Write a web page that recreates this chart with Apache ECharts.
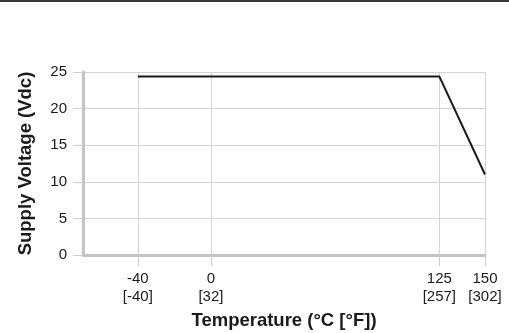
<!DOCTYPE html>
<html>
<head>
<meta charset="utf-8">
<script src="https://cdn.jsdelivr.net/npm/echarts@6/dist/echarts.min.js"></script>
<style>
  html, body { margin: 0; padding: 0; background: #fff; }
  #chart { width: 509px; height: 333px; }
</style>
</head>
<body>
<div id="chart"></div>
<script>
// derating curve: temperature (°C) vs supply voltage (Vdc)
const tempC = [-40, 125, 150];
const supplyV = [24.4, 24.4, 11];
// x tick positions and their two-line labels
const xTicks = [-40, 0, 125, 150];
const xTickLabels = ['-40\n[-40]', '0\n[32]', '125\n[257]', '150\n[302]'];

const chart = echarts.init(document.getElementById('chart'));

const option = {
  animation: false,
  backgroundColor: '#fff',
  graphic: [
    {
      type: 'rect',
      left: 0,
      top: 0,
      shape: { width: 509, height: 2 },
      style: { fill: '#3a3a3a' },
    },
  ],
  grid: {
    left: 83,
    right: 24,
    top: 72,
    bottom: 78,
    outerBoundsMode: 'none',
  },
  xAxis: {
    type: 'value',
    min: -70,
    max: 150,
    name: 'Temperature (°C [°F])',
    nameLocation: 'middle',
    nameGap: 56,
    nameTextStyle: {
      fontFamily: 'Liberation Sans',
      fontWeight: 'bold',
      fontSize: 18.5,
      color: '#1a1a1a',
    },
    axisLine: { show: true, onZero: false, lineStyle: { color: '#c4c4c6', width: 3 } },
    axisTick: {
      show: true,
      length: 11,
      customValues: xTicks,
      lineStyle: { color: '#cfcfcf', width: 1 },
    },
    axisLabel: {
      customValues: xTicks,
      formatter: (v) => xTickLabels[xTicks.indexOf(v)],
      margin: 15,
      fontFamily: 'Liberation Sans',
      fontSize: 15,
      lineHeight: 18,
      color: '#1a1a1a',
    },
    splitLine: { show: true, lineStyle: { color: '#d4d4d4', width: 1 } },
  },
  yAxis: {
    type: 'value',
    min: 0,
    max: 25,
    interval: 5,
    name: 'Supply Voltage (Vdc)',
    nameLocation: 'middle',
    nameGap: 48,
    nameTextStyle: {
      fontFamily: 'Liberation Sans',
      fontWeight: 'bold',
      fontSize: 18.5,
      color: '#1a1a1a',
    },
    axisLine: { show: true, onZero: false, lineStyle: { color: '#c4c4c6', width: 3 } },
    axisTick: { show: true, length: 10, lineStyle: { color: '#cfcfcf', width: 1 } },
    axisLabel: {
      margin: 16,
      fontFamily: 'Liberation Sans',
      fontSize: 15,
      color: '#1a1a1a',
    },
    splitLine: { show: true, lineStyle: { color: '#d4d4d4', width: 1 } },
  },
  series: [
    {
      type: 'line',
      data: tempC.map((t, i) => [t, supplyV[i]]),
      showSymbol: false,
      symbol: 'none',
      lineStyle: { color: '#1a1a1a', width: 2 },
    },
  ],
};

chart.setOption(option);
</script>
</body>
</html>
